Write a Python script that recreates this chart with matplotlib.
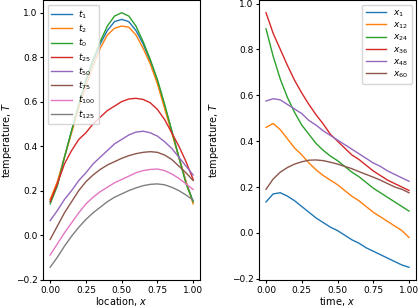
import matplotlib
matplotlib.use("Agg")
import matplotlib.pyplot as plt

plt.rcParams.update({
    "font.size": 6.5,
    "axes.labelsize": 7,
    "legend.fontsize": 6.5,
    "xtick.labelsize": 6.5,
    "ytick.labelsize": 6.5,
    "xtick.major.size": 2.5,
    "ytick.major.size": 2.5,
    "xtick.major.pad": 1.5,
    "ytick.major.pad": 1.5,
    "lines.linewidth": 1.0,
    "legend.labelspacing": 0.2,
    "legend.handlelength": 2.3,
    "legend.handletextpad": 0.7,
})

# left panel: temperature profiles along location x
loc = [0.0, 0.05, 0.1, 0.15, 0.2, 0.25, 0.3, 0.35, 0.4, 0.45, 0.5,
       0.55, 0.6, 0.65, 0.7, 0.75, 0.8, 0.85, 0.9, 0.95, 1.0]
t_labels = ["$t_1$", "$t_2$", "$t_0$", "$t_{25}$", "$t_{50}$", "$t_{75}$", "$t_{100}$", "$t_{125}$"]
T_t1 = [0.15, 0.23, 0.35, 0.47, 0.58, 0.69, 0.78, 0.86, 0.92, 0.96, 0.97,
        0.96, 0.92, 0.86, 0.78, 0.69, 0.58, 0.47, 0.35, 0.24, 0.15]
T_t2 = [0.16, 0.24, 0.35, 0.46, 0.57, 0.67, 0.76, 0.84, 0.9, 0.93, 0.94,
        0.935, 0.9, 0.84, 0.77, 0.68, 0.57, 0.46, 0.35, 0.24, 0.14]
T_t0 = [0.14, 0.22, 0.35, 0.47, 0.59, 0.7, 0.79, 0.87, 0.94, 0.985, 1.0,
        0.985, 0.94, 0.87, 0.79, 0.7, 0.59, 0.47, 0.35, 0.23, 0.15]
T_t25 = [0.15, 0.23, 0.32, 0.38, 0.43, 0.46, 0.5, 0.53, 0.56, 0.58, 0.6,
         0.612, 0.615, 0.61, 0.595, 0.565, 0.52, 0.46, 0.4, 0.33, 0.25]
T_t50 = [0.065, 0.11, 0.16, 0.2, 0.245, 0.28, 0.32, 0.35, 0.38, 0.41, 0.43,
         0.45, 0.463, 0.467, 0.46, 0.445, 0.42, 0.39, 0.35, 0.31, 0.27]
T_t75 = [-0.02, 0.04, 0.1, 0.15, 0.2, 0.24, 0.27, 0.295, 0.315, 0.33, 0.345,
         0.357, 0.366, 0.372, 0.375, 0.372, 0.36, 0.34, 0.31, 0.28, 0.245]
T_t100 = [-0.09, -0.04, 0.01, 0.055, 0.1, 0.14, 0.17, 0.195, 0.215, 0.235, 0.25,
          0.265, 0.28, 0.29, 0.295, 0.297, 0.29, 0.275, 0.255, 0.23, 0.205]
T_t125 = [-0.145, -0.1, -0.05, -0.005, 0.035, 0.07, 0.1, 0.125, 0.15, 0.17, 0.185,
          0.2, 0.212, 0.222, 0.228, 0.23, 0.226, 0.215, 0.2, 0.18, 0.157]

# right panel: temperature histories at fixed locations
time = loc
x_labels = ["$x_1$", "$x_{12}$", "$x_{24}$", "$x_{36}$", "$x_{48}$", "$x_{60}$"]
T_x1 = [0.135, 0.17, 0.175, 0.16, 0.14, 0.115, 0.09, 0.065, 0.045, 0.025, 0.01,
        -0.01, -0.03, -0.045, -0.065, -0.08, -0.095, -0.11, -0.125, -0.14, -0.15]
T_x12 = [0.46, 0.477, 0.45, 0.41, 0.37, 0.34, 0.305, 0.275, 0.25, 0.23, 0.21,
         0.185, 0.16, 0.14, 0.115, 0.09, 0.07, 0.05, 0.03, 0.01, -0.02]
T_x24 = [0.89, 0.77, 0.67, 0.59, 0.525, 0.47, 0.43, 0.39, 0.36, 0.335, 0.315,
         0.29, 0.265, 0.245, 0.22, 0.195, 0.175, 0.155, 0.135, 0.115, 0.095]
T_x36 = [0.96, 0.87, 0.8, 0.73, 0.665, 0.61, 0.56, 0.515, 0.475, 0.43, 0.4,
         0.37, 0.34, 0.32, 0.295, 0.27, 0.25, 0.23, 0.215, 0.2, 0.185]
T_x48 = [0.575, 0.585, 0.58, 0.56, 0.54, 0.52, 0.49, 0.47, 0.445, 0.425, 0.405,
         0.385, 0.365, 0.345, 0.325, 0.305, 0.29, 0.27, 0.255, 0.24, 0.225]
T_x60 = [0.19, 0.235, 0.265, 0.285, 0.3, 0.31, 0.317, 0.318, 0.315, 0.308, 0.3,
         0.29, 0.28, 0.267, 0.255, 0.243, 0.23, 0.215, 0.2, 0.19, 0.175]

fig = plt.figure(figsize=(4.18, 3.08), dpi=100)
ax1 = fig.add_axes([0.1029, 0.0909, 0.3763, 0.9091])
ax2 = fig.add_axes([0.6193, 0.0909, 0.3763, 0.9091])

for series, lab in zip([T_t1, T_t2, T_t0, T_t25, T_t50, T_t75, T_t100, T_t125], t_labels):
    ax1.plot(loc, series, label=lab)
ax1.set_xlabel("location, $x$", labelpad=0.5)
ax1.set_ylabel("temperature, $T$")
ax1.yaxis.set_label_coords(-0.185, 0.5)
ax1.set_xticks([0.0, 0.25, 0.5, 0.75, 1.0])
ax1.legend(loc="upper left")

for series, lab in zip([T_x1, T_x12, T_x24, T_x36, T_x48, T_x60], x_labels):
    ax2.plot(time, series, label=lab)
ax2.set_xlabel("time, $x$", labelpad=0.5)
ax2.set_ylabel("temperature, $T$")
ax2.yaxis.set_label_coords(-0.24, 0.5)
ax2.set_xticks([0.0, 0.25, 0.5, 0.75, 1.0])
ax2.legend(loc="upper right")

fig.savefig("out.png", dpi=100)
